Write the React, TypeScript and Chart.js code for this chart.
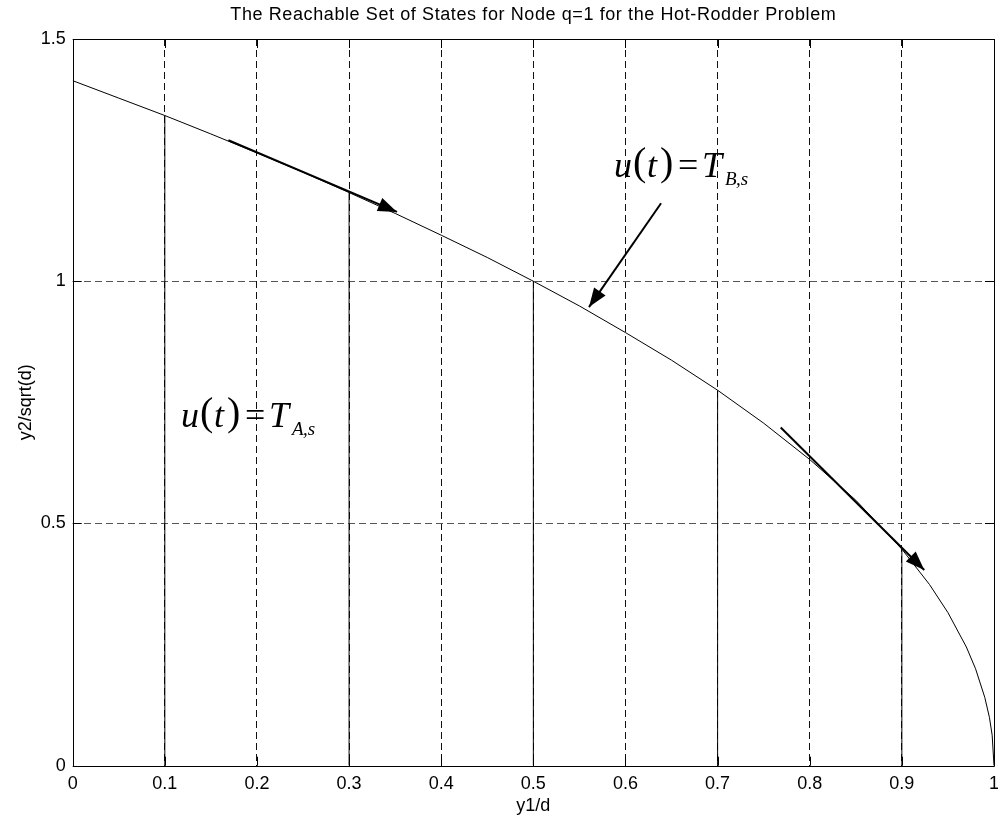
import React, { useEffect, useRef } from 'react';
import { Chart, registerables } from 'chart.js';

Chart.register(...registerables);

// ---- text ----
const chartTitle = 'The Reachable Set of States for Node q=1 for the Hot-Rodder Problem';
const xAxisTitle = 'y1/d';
const yAxisTitle = 'y2/sqrt(d)';

// ---- ticks ----
const xTicks = [0, 0.1, 0.2, 0.3, 0.4, 0.5, 0.6, 0.7, 0.8, 0.9, 1];
const xTickLabels = ['0', '0.1', '0.2', '0.3', '0.4', '0.5', '0.6', '0.7', '0.8', '0.9', '1'];
const yTicks = [0, 0.5, 1, 1.5];
const yTickLabels = ['0', '0.5', '1', '1.5'];

// ---- boundary of the reachable set ----
const curveX = [0, 0.05, 0.1, 0.15, 0.2, 0.25, 0.3, 0.35, 0.4, 0.45, 0.5, 0.55, 0.6, 0.65, 0.7, 0.75, 0.8, 0.85, 0.9, 0.93, 0.95, 0.97, 0.98, 0.99, 0.995, 0.998, 1];
const curveY = [1.414, 1.378, 1.342, 1.304, 1.265, 1.225, 1.183, 1.14, 1.095, 1.049, 1.0, 0.949, 0.894, 0.837, 0.775, 0.707, 0.632, 0.548, 0.447, 0.374, 0.316, 0.245, 0.2, 0.141, 0.1, 0.063, 0];

// ---- solid stems from the axis up to the boundary ----
const stemX = [0.1, 0.3, 0.5, 0.7, 0.9];
const stemTop = [1.342, 1.183, 1.0, 0.775, 0.447];

// ---- arrows (tail -> tip) ----
const arrowFromX = [0.169, 0.7685, 0.6386];
const arrowFromY = [1.291, 0.698, 1.161];
const arrowToX = [0.352, 0.9243, 0.5604];
const arrowToY = [1.143, 0.404, 0.9467];

// ---- control-law labels ----
const labelSub = ['B,s', 'A,s'];
const labelX = [0.5875, 0.1175];
const labelY = [1.215, 0.699];

const SANS = '"Liberation Sans", Arial, Helvetica, sans-serif';
const SERIF = '"Liberation Serif", "Times New Roman", serif';

function drawControlLabel(ctx: CanvasRenderingContext2D, x: number, y: number, sub: string) {
  const it = (s: number) => `italic ${s}px ${SERIF}`;
  const rm = (s: number) => `${s}px ${SERIF}`;
  const parts: [string, string, number, number][] = [
    [it(36), 'u', 0, 0],
    [rm(40), '(', 19, -2],
    [it(36), 't', 33, 0],
    [rm(40), ')', 46, -2],
    [rm(36), '=', 64, 0],
    [it(36), 'T', 88, 0],
    [it(19), sub.charAt(0), 111, 8],
    [it(19), sub.slice(1), 122, 8],
  ];
  ctx.save();
  ctx.fillStyle = '#000';
  ctx.textAlign = 'left';
  ctx.textBaseline = 'alphabetic';
  for (const [font, txt, dx, dy] of parts) {
    ctx.font = font;
    ctx.fillText(txt, x + dx, y + dy);
  }
  ctx.restore();
}

const decorPlugin = {
  id: 'decor',
  afterDatasetsDraw(chart: any) {
    const { ctx, chartArea, scales } = chart;
    const xs = scales.x;
    const ys = scales.y;

    // arrow heads
    ctx.save();
    ctx.fillStyle = '#000';
    for (let i = 0; i < arrowToX.length; i++) {
      const x0 = xs.getPixelForValue(arrowFromX[i]);
      const y0 = ys.getPixelForValue(arrowFromY[i]);
      const x1 = xs.getPixelForValue(arrowToX[i]);
      const y1 = ys.getPixelForValue(arrowToY[i]);
      const a = Math.atan2(y1 - y0, x1 - x0);
      const len = 19;
      const half = 7;
      const bx = x1 - len * Math.cos(a);
      const by = y1 - len * Math.sin(a);
      ctx.beginPath();
      ctx.moveTo(x1, y1);
      ctx.lineTo(bx + half * Math.sin(a), by - half * Math.cos(a));
      ctx.lineTo(bx - half * Math.sin(a), by + half * Math.cos(a));
      ctx.closePath();
      ctx.fill();
    }
    ctx.restore();

    // axes box with inward ticks
    const { left, right, top, bottom } = chartArea;
    ctx.save();
    ctx.strokeStyle = '#000';
    ctx.lineWidth = 1;
    ctx.beginPath();
    ctx.rect(Math.round(left) + 0.5, Math.round(top) + 0.5, Math.round(right) - Math.round(left), Math.round(bottom) - Math.round(top));
    ctx.stroke();
    const tl = 9;
    ctx.beginPath();
    for (const v of xTicks) {
      const px = Math.round(xs.getPixelForValue(v)) + 0.5;
      ctx.moveTo(px, bottom);
      ctx.lineTo(px, bottom - tl);
      ctx.moveTo(px, top);
      ctx.lineTo(px, top + tl);
    }
    for (const v of yTicks) {
      const py = Math.round(ys.getPixelForValue(v)) + 0.5;
      ctx.moveTo(left, py);
      ctx.lineTo(left + tl, py);
      ctx.moveTo(right, py);
      ctx.lineTo(right - tl, py);
    }
    ctx.stroke();
    ctx.restore();
  },
  afterDraw(chart: any) {
    const { ctx, chartArea, scales } = chart;
    const cx = (chartArea.left + chartArea.right) / 2;
    const cy = (chartArea.top + chartArea.bottom) / 2;
    ctx.save();
    ctx.fillStyle = '#000';
    ctx.textAlign = 'center';
    ctx.textBaseline = 'middle';
    ctx.font = `18px ${SANS}`;
    (ctx as any).letterSpacing = '0.6px';
    ctx.fillText(chartTitle, cx, 15);
    (ctx as any).letterSpacing = '0px';
    ctx.fillText(xAxisTitle, cx, chartArea.bottom + 40);
    ctx.translate(26, cy);
    ctx.rotate(-Math.PI / 2);
    ctx.fillText(yAxisTitle, 0, 0);
    ctx.restore();

    for (let i = 0; i < labelSub.length; i++) {
      drawControlLabel(ctx, scales.x.getPixelForValue(labelX[i]), scales.y.getPixelForValue(labelY[i]), labelSub[i]);
    }
  },
};

export default function App() {
  const canvasRef = useRef<HTMLCanvasElement | null>(null);

  useEffect(() => {
    document.body.style.margin = '0';
    const canvas = canvasRef.current;
    if (!canvas) return;

    const datasets: any[] = [];
    datasets.push({
      label: 'boundary',
      data: curveX.map((x, i) => ({ x, y: curveY[i] })),
      showLine: true,
      borderColor: '#000',
      borderWidth: 1,
      pointRadius: 0,
      tension: 0,
    });
    stemX.forEach((x, i) => {
      datasets.push({
        label: `stem${i}`,
        data: [{ x, y: 0 }, { x, y: stemTop[i] }],
        showLine: true,
        borderColor: '#000',
        borderWidth: 1,
        pointRadius: 0,
      });
    });
    arrowFromX.forEach((x, i) => {
      datasets.push({
        label: `arrow${i}`,
        data: [{ x, y: arrowFromY[i] }, { x: arrowToX[i], y: arrowToY[i] }],
        showLine: true,
        borderColor: '#000',
        borderWidth: 2,
        borderCapStyle: 'butt',
        pointRadius: 0,
      });
    });

    const tickFont = { family: SANS, size: 18 };
    // grid lines on the frame edges are covered by the solid box
    const innerOnly = (color: string, count: number) => (c: any) =>
      c.index === 0 || c.index === count - 1 ? 'rgba(0,0,0,0)' : color;

    const chart = new Chart(canvas, {
      type: 'scatter',
      data: { datasets },
      options: {
        responsive: false,
        animation: false,
        events: [],
        layout: { padding: { top: 39, right: 4, left: 0, bottom: 0 } },
        plugins: {
          legend: { display: false },
          tooltip: { enabled: false },
          title: { display: false },
        },
        scales: {
          x: {
            type: 'linear',
            min: 0,
            max: 1,
            afterBuildTicks: (s: any) => {
              s.ticks = xTicks.map((v) => ({ value: v }));
            },
            afterFit: (s: any) => {
              s.height = 57.3;
              s.paddingLeft = 0;
              s.paddingRight = 0;
            },
            ticks: {
              autoSkip: false,
              maxRotation: 0,
              minRotation: 0,
              padding: 8,
              color: '#000',
              font: tickFont,
              callback: (_v: any, i: number) => xTickLabels[i],
            },
            grid: { color: innerOnly('#111', xTicks.length), lineWidth: 1, drawTicks: false },
            border: { display: false, dash: [7, 4] },
          },
          y: {
            type: 'linear',
            min: 0,
            max: 1.5,
            afterBuildTicks: (s: any) => {
              s.ticks = yTicks.map((v) => ({ value: v }));
            },
            afterFit: (s: any) => {
              s.width = 72.7;
              s.paddingTop = 0;
              s.paddingBottom = 0;
            },
            ticks: {
              autoSkip: false,
              padding: 7,
              color: '#000',
              font: tickFont,
              callback: (_v: any, i: number) => yTickLabels[i],
            },
            grid: { color: innerOnly('#555', yTicks.length), lineWidth: 1, drawTicks: false },
            border: { display: false, dash: [7, 4] },
          },
        },
      },
      plugins: [decorPlugin],
    });

    return () => chart.destroy();
  }, []);

  return (
    <div style={{ width: 998, height: 823, background: '#fff' }}>
      <canvas ref={canvasRef} width={998} height={823} style={{ display: 'block' }} />
    </div>
  );
}
